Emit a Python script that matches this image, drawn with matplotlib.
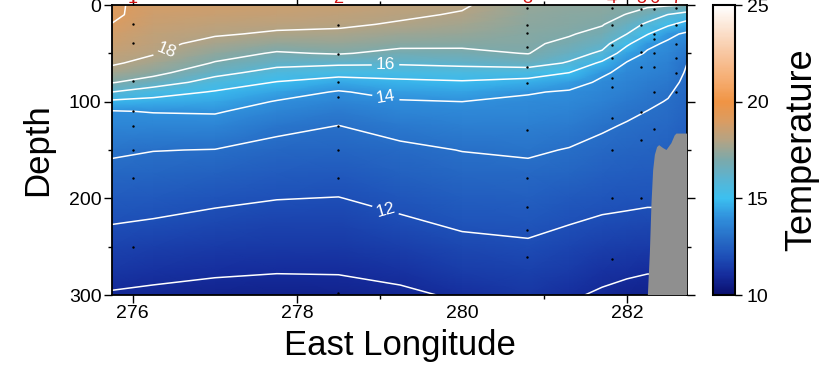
import numpy as np
import matplotlib
matplotlib.use('Agg')
import matplotlib.pyplot as plt
from matplotlib.colors import LinearSegmentedColormap, Normalize
from matplotlib.patches import Polygon

plt.rcParams['font.family'] = ['Liberation Sans', 'DejaVu Sans']

# ---- data -------------------------------------------------------------
lons = [275.75, 276.25, 277.0, 277.75, 278.5, 279.25, 280.0, 280.8,
        281.3, 281.7, 282.0, 282.25, 282.5, 282.75]
depths = [0, 10, 20, 30, 40, 50, 60, 70, 80, 90, 100, 110, 125, 150,
          175, 200, 225, 250, 275, 300]

# temperature profiles (one list per longitude, values at `depths`)
t_27575 = [19.1, 19.15, 18.98, 18.78, 18.56, 18.33, 18.11, 17.69, 17.06, 16.0, 14.79, 13.95, 13.66, 13.14, 12.74, 12.36, 12.03, 11.66, 11.29, 10.93]
t_27625 = [18.8, 18.65, 18.5, 18.36, 18.21, 18.06, 17.73, 17.29, 16.54, 15.45, 14.68, 14.04, 13.65, 13.02, 12.67, 12.32, 11.94, 11.58, 11.21, 10.85]
t_27700 = [18.7, 18.5, 18.29, 18.08, 17.76, 17.36, 16.94, 16.29, 15.59, 14.92, 14.5, 14.08, 13.65, 12.98, 12.57, 12.15, 11.78, 11.44, 11.1, 10.75]
t_27775 = [18.6, 18.39, 18.17, 17.9, 17.42, 16.91, 16.3, 15.64, 14.95, 14.42, 13.94, 13.65, 13.21, 12.74, 12.38, 12.02, 11.69, 11.37, 11.04, 10.7]
t_27850 = [18.5, 18.31, 18.12, 17.84, 17.46, 17.07, 16.19, 15.36, 14.56, 13.92, 13.65, 13.38, 12.99, 12.65, 12.32, 11.98, 11.67, 11.36, 11.05, 10.74]
t_27925 = [18.3, 18.13, 17.92, 17.57, 17.22, 16.77, 16.13, 15.41, 14.79, 14.33, 13.92, 13.67, 13.29, 12.83, 12.52, 12.21, 11.89, 11.55, 11.2, 10.86]
t_28000 = [18.1, 17.93, 17.7, 17.45, 17.18, 16.8, 16.23, 15.56, 14.89, 14.45, 14.0, 13.8, 13.51, 13.02, 12.71, 12.42, 12.12, 11.8, 11.47, 11.1]
t_28080 = [17.45, 17.37, 17.29, 17.2, 17.12, 17.03, 16.45, 15.47, 14.67, 14.06, 13.86, 13.71, 13.48, 13.11, 12.79, 12.49, 12.19, 11.9, 11.6, 11.3]
t_28130 = [17.35, 17.25, 17.15, 17.06, 16.83, 16.39, 15.91, 15.0, 14.33, 13.92, 13.76, 13.6, 13.35, 12.96, 12.65, 12.34, 12.03, 11.72, 11.41, 11.1]
t_28170 = [17.3, 17.18, 17.05, 16.76, 16.35, 15.83, 14.8, 14.12, 13.86, 13.69, 13.52, 13.36, 13.1, 12.78, 12.49, 12.21, 11.9, 11.57, 11.23, 10.89]
t_28200 = [17.2, 16.98, 16.5, 16.0, 15.19, 14.44, 13.94, 13.78, 13.62, 13.46, 13.3, 13.14, 12.94, 12.68, 12.42, 12.16, 11.85, 11.49, 11.12, 10.76]
t_28225 = [17.15, 16.6, 15.81, 15.05, 14.2, 13.89, 13.74, 13.58, 13.43, 13.28, 13.13, 12.99, 12.84, 12.6, 12.36, 12.12, 11.8, 11.42, 11.05, 10.67]
t_28250 = [17.1, 15.98, 15.17, 14.2, 13.87, 13.71, 13.56, 13.4, 13.24, 13.08, 12.96, 12.88, 12.76, 12.56, 12.36, 12.12, 11.8, 11.42, 11.05, 10.67]
t_28275 = [16.98, 15.58, 14.57, 13.82, 13.52, 13.21, 12.96, 12.88, 12.8, 12.72, 12.65, 12.58, 12.48, 12.35, 12.2, 12.05, 11.8, 11.4, 11.0, 10.6]

profiles = [t_27575, t_27625, t_27700, t_27775, t_27850, t_27925, t_28000,
            t_28080, t_28130, t_28170, t_28200, t_28225, t_28250, t_28275]

plain_levels = [11, 13, 15, 17, 19]
labelled_levels = [12, 14, 16, 18]
label_spots = [(276.4, 45), (279.07, 62), (279.07, 98), (279.07, 212)]

# CTD stations and sample depths
st_lon = [276.0, 278.49, 280.79, 281.82, 282.17, 282.33, 282.60]
st_names = ['1', '2', '3', '4', '5', '6', '7']
st_samples = [
    [20, 39, 79, 110, 125, 150, 179, 250],
    [21, 51, 80, 95, 125, 150, 179, 298],
    [3, 21, 29, 43, 64, 81, 129, 179, 209, 233, 261],
    [3, 21, 41, 55, 75, 85, 117, 150, 200, 263],
    [4, 21, 49, 64, 111, 140, 200],
    [4, 30, 35, 50, 64, 90, 128],
    [3, 21, 40, 55, 70, 90],
]

# sea floor / land outline
land_lon = [282.255, 282.279, 282.299, 282.319, 282.34, 282.367, 282.392,
            282.44, 282.481, 282.54, 282.58, 282.602, 282.8, 282.8]
land_dep = [300, 257, 205, 171, 155, 147, 145, 148, 150, 143, 135, 133, 133, 300]

# ---- colormap ---------------------------------------------------------
cm_vals = [10, 11, 12, 13, 14, 15, 16, 17, 18, 19, 20, 21, 22.5, 25]
cm_cols = ['#0a0f6e', '#152c9c', '#1e50b8', '#2870c8', '#3090dc', '#3cc0f0',
           '#5ab4d2', '#7ca9aa', '#b4a384', '#da9c62', '#f09444', '#f5aa6c',
           '#f8c6a0', '#ffffff']
cmap = LinearSegmentedColormap.from_list(
    'sect', [((v - 10) / 15.0, c) for v, c in zip(cm_vals, cm_cols)])
norm = Normalize(10, 25)

# ---- figure -----------------------------------------------------------
fig = plt.figure(figsize=(8.3, 3.81), dpi=100)
ax = fig.add_axes([112 / 830, 1 - 295 / 381, 575 / 830, 290 / 381])
cax = fig.add_axes([713 / 830, 1 - 295 / 381, 22 / 830, 290 / 381])

X, Y = np.meshgrid(lons, depths)
T = np.array(profiles).T

mesh = ax.pcolormesh(X, Y, T, cmap=cmap, norm=norm, shading='gouraud',
                     rasterized=True)
ax.contour(X, Y, T, levels=plain_levels, colors='white', linewidths=1.1)
cs = ax.contour(X, Y, T, levels=labelled_levels, colors='white',
                linewidths=1.1)
ax.clabel(cs, manual=label_spots, fmt='%d',
          fontsize=12.5, colors='white', inline=True, inline_spacing=4)

for lon, samp in zip(st_lon, st_samples):
    ax.scatter([lon] * len(samp), samp, s=3, color='black', zorder=4,
               linewidths=0)

ax.add_patch(Polygon(list(zip(land_lon, land_dep)), closed=True,
                     facecolor='#8f8f8f', edgecolor='none', zorder=5))

for lon, name in zip(st_lon, st_names):
    ax.annotate(name, xy=(lon, 1), xycoords=('data', 'axes fraction'),
                xytext=(0, 1.5), textcoords='offset points',
                ha='center', va='baseline', color='#d01010', fontsize=13,
                annotation_clip=False)

ax.set_xlim(275.75, 282.73)
ax.set_ylim(300, 0)

ax.set_xticks([276, 278, 280, 282])
ax.set_xticklabels(['276', '278', '280', '282'])
ax.set_xticks([279, 281], minor=True)
ax.set_yticks([0, 100, 200, 300])
ax.set_yticks([50, 150, 250], minor=True)
ax.tick_params(which='both', direction='out', top=True, right=True,
               labelsize=14, width=1.0, colors='black')
ax.tick_params(which='major', length=5.5, pad=2)
ax.tick_params(which='minor', length=3)
xt = ax.xaxis.get_major_ticks()
xt[2].tick1line.set_visible(False)
xt[2].tick2line.set_visible(False)
for sp in ax.spines.values():
    sp.set_linewidth(1.3)

ax.set_xlabel('East Longitude', fontsize=25, labelpad=5)
ax.set_ylabel('Depth', fontsize=25, labelpad=11)

cb = fig.colorbar(mesh, cax=cax, ticks=[10, 15, 20, 25])
cb.outline.set_linewidth(1.5)
cb.ax.tick_params(labelsize=14, length=5, width=1.0, direction='out')
cb.set_label('Temperature', fontsize=26, labelpad=11)

fig.savefig('out.png', dpi=100)
